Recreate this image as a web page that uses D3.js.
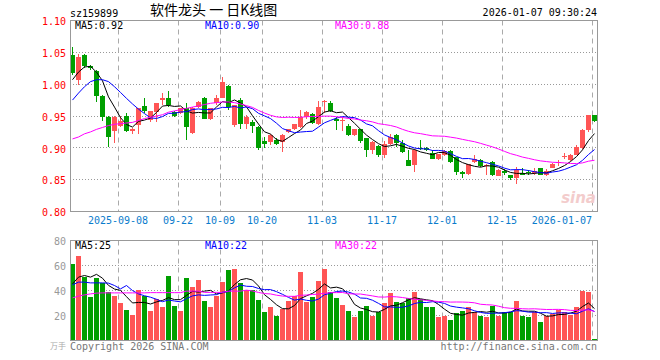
<!DOCTYPE html>
<head>
  <meta charset="utf-8">
  <title>159899 daily k</title>
  <script src="https://d3js.org/d3.v7.min.js"></script>
  <style>
    body { margin:0; background:#fff; }
    svg { display:block; }
    text { font-family: "DejaVu Sans Mono", monospace; font-size: 10px; }
  </style>
</head>
<body>
  <svg width="660" height="360"></svg>
  <script>
    // trading days shown on the chart
    var dates = [
      "2025-08-27","2025-08-28","2025-08-29",
      "2025-09-01","2025-09-02","2025-09-03","2025-09-04","2025-09-05",
      "2025-09-08","2025-09-09","2025-09-10","2025-09-11","2025-09-12",
      "2025-09-15","2025-09-16","2025-09-17","2025-09-18","2025-09-19",
      "2025-09-22","2025-09-23","2025-09-24","2025-09-25","2025-09-26",
      "2025-09-29","2025-09-30",
      "2025-10-09","2025-10-10",
      "2025-10-13","2025-10-14","2025-10-15","2025-10-16","2025-10-17",
      "2025-10-20","2025-10-21","2025-10-22","2025-10-23","2025-10-24",
      "2025-10-27","2025-10-28","2025-10-29","2025-10-30","2025-10-31",
      "2025-11-03","2025-11-04","2025-11-05","2025-11-06","2025-11-07",
      "2025-11-10","2025-11-11","2025-11-12","2025-11-13","2025-11-14",
      "2025-11-17","2025-11-18","2025-11-19","2025-11-20","2025-11-21",
      "2025-11-24","2025-11-25","2025-11-26","2025-11-27","2025-11-28",
      "2025-12-01","2025-12-02","2025-12-03","2025-12-04","2025-12-05",
      "2025-12-08","2025-12-09","2025-12-10","2025-12-11","2025-12-12",
      "2025-12-15","2025-12-16","2025-12-17","2025-12-18","2025-12-19",
      "2025-12-22","2025-12-23","2025-12-24","2025-12-25","2025-12-26",
      "2025-12-29","2025-12-30","2025-12-31",
      "2026-01-05","2026-01-06","2026-01-07"
    ];

    var open = [1.046,1.006,1.046,1.028,1.021,0.981,0.948,0.927,0.935,0.950,
                0.926,0.936,0.966,0.943,0.957,0.975,0.979,0.957,0.955,0.962,
                0.924,0.964,0.978,0.946,0.970,0.979,0.997,0.936,0.975,0.938,
                0.941,0.933,0.911,0.909,0.913,0.909,0.925,0.930,0.933,0.948,
                0.953,0.938,0.972,0.971,0.945,0.942,0.934,0.920,0.929,0.915,
                0.896,0.903,0.888,0.906,0.920,0.908,0.881,0.873,0.900,0.899,
                0.892,0.883,0.888,0.895,0.885,0.862,0.859,0.878,0.881,0.871,
                0.878,0.856,0.863,0.857,0.852,0.860,0.862,0.861,0.868,0.858,
                0.869,0.877,0.885,0.881,0.889,0.899,0.928,0.951];
    var high = [1.059,1.048,1.047,1.030,1.023,0.983,0.950,0.950,0.950,0.955,
                0.931,0.962,0.978,0.958,0.971,0.986,0.990,0.958,0.963,0.970,
                0.964,0.974,0.980,0.963,0.983,1.012,0.998,0.968,0.978,0.951,
                0.944,0.935,0.917,0.921,0.915,0.921,0.930,0.938,0.959,0.958,
                0.955,0.973,0.975,0.973,0.949,0.948,0.937,0.930,0.930,0.916,
                0.910,0.905,0.910,0.922,0.921,0.913,0.897,0.898,0.912,0.901,
                0.896,0.891,0.896,0.896,0.886,0.864,0.875,0.889,0.882,0.874,
                0.880,0.866,0.867,0.858,0.870,0.868,0.865,0.868,0.869,0.866,
                0.876,0.881,0.892,0.890,0.905,0.929,0.952,0.952];
    var low  = [1.015,0.999,1.026,1.022,0.972,0.942,0.902,0.907,0.932,0.925,
                0.921,0.921,0.954,0.941,0.941,0.967,0.964,0.949,0.953,0.912,
                0.922,0.962,0.945,0.944,0.967,0.978,0.959,0.933,0.930,0.930,
                0.923,0.897,0.899,0.905,0.904,0.894,0.923,0.928,0.931,0.946,
                0.938,0.936,0.954,0.956,0.928,0.927,0.918,0.919,0.907,0.886,
                0.891,0.886,0.884,0.904,0.902,0.892,0.871,0.862,0.896,0.895,
                0.882,0.881,0.887,0.876,0.857,0.852,0.858,0.876,0.870,0.857,
                0.856,0.855,0.857,0.850,0.843,0.857,0.858,0.858,0.857,0.856,
                0.868,0.871,0.882,0.880,0.888,0.898,0.925,0.941];
    var close = [1.017,1.043,1.028,1.025,0.981,0.949,0.917,0.948,0.942,0.927,
                 0.929,0.962,0.958,0.958,0.971,0.979,0.967,0.950,0.962,0.932,
                 0.962,0.972,0.946,0.962,0.979,1.004,0.964,0.967,0.938,0.949,
                 0.934,0.899,0.906,0.920,0.906,0.920,0.929,0.937,0.948,0.957,
                 0.939,0.964,0.973,0.958,0.942,0.944,0.920,0.929,0.911,0.896,
                 0.909,0.888,0.906,0.917,0.907,0.894,0.872,0.897,0.898,0.896,
                 0.883,0.890,0.895,0.878,0.862,0.859,0.874,0.882,0.871,0.873,
                 0.857,0.865,0.860,0.852,0.865,0.858,0.860,0.864,0.858,0.863,
                 0.875,0.878,0.887,0.889,0.902,0.928,0.951,0.942];
    // volume, 10k lots
    var volume = [61.3,67.5,50.7,35.2,49.9,45.9,38.7,36.0,29.9,24.8,
                  20.8,40.8,36.0,23.5,33.3,26.7,52.0,28.0,23.5,50.4,
                  42.7,48.8,32.0,26.7,36.0,46.7,56.8,57.6,45.9,40.8,
                  40.8,32.8,22.7,27.2,19.5,25.3,32.0,36.0,54.7,30.7,
                  35.2,48.0,57.6,38.7,33.9,28.8,24.0,19.2,24.0,28.0,
                  20.0,22.7,29.9,37.9,30.7,29.9,34.1,38.7,33.3,26.7,
                  26.7,18.7,20.0,16.8,21.9,24.0,27.2,22.7,20.0,19.2,
                  28.0,20.0,22.7,23.2,32.0,20.0,19.2,22.7,15.2,20.0,
                  21.3,24.5,23.2,20.8,27.2,40.0,38.7,0.8];

    // moving average values before enough bars are on screen
    var ma5Head  = [1.007,1.019,1.027,1.028];
    var ma10Head = [0.975,0.986,0.996,1.004,1.007,1.007,1.004,0.996,0.987];
    var ma30Head = [0.914,0.917,0.922,0.925,0.929,0.932,0.935,0.937,0.938,0.939,
                    0.940,0.943,0.946,0.948,0.950,0.952,0.956,0.958,0.960,0.962,
                    0.964,0.966,0.968,0.970,0.971,0.972,0.972,0.971,0.969];
    var vma5Head  = [45.3,50.7,52.0,50.7];
    var vma10Head = [44.5,46.7,46.7,46.1,46.1,46.1,45.9,44.0,41.3];
    var vma30Head = [34.1,35.5,36.5,37.3,37.9,38.1,38.1,38.1,38.1,38.1,
                     38.1,38.1,38.1,38.3,38.3,38.3,38.3,38.3,38.3,39.5,
                     39.5,39.5,38.5,38.5,38.5,38.5,39.5,39.5,39.5];

    var priceTicks = [0.80,0.85,0.90,0.95,1.00,1.05,1.10];
    var volTicks = [20,40,60,80];
    var dateTicks = ["2025-09-08","2025-09-22","2025-10-09","2025-10-20","2025-11-03",
                     "2025-11-17","2025-12-01","2025-12-15","2026-01-07"];
    var dateTickLabels = ["2025-09-08","09-22","10-09","10-20","11-03",
                          "11-17","12-01","12-15","2026-01-07"];
    var priceMaLabels = ["MA5:0.92","MA10:0.90","MA30:0.88"];
    var volMaLabels = ["MA5:25","MA10:22","MA30:22"];
    var maColors = ["#000","#00f","#f0f"];

    var upColor = "#ff5555", downColor = "#009f00";
    var left = 70, right = 598;
    var pTop = 20.5, pBottom = 211.5, vTop = 240.5, vBottom = 340.5;

    var svg = d3.select('svg');

    var x = d3.scaleBand()
      .domain(dates)
      .range([left, right])
      .paddingInner(1/6)
      .align(0)
      .round(true);
    var yP = d3.scaleLinear().domain([0.80, 1.10]).range([pBottom, pTop]);
    var yV = d3.scaleLinear().domain([0, 80]).range([vBottom, vTop]);

    function movingAvg(vals, n, head) {
      return vals.map((v, i) => {
        if (i < n - 1) return head[i];
        return d3.mean(vals.slice(i - n + 1, i + 1));
      });
    }

    var candles = dates.map((d, i) => ({
      date: d, o: open[i], h: high[i], l: low[i], c: close[i], v: volume[i]
    }));
    var col = d => d.c >= d.o ? upColor : downColor;

    // grids
    var grid = svg.append('g');
    priceTicks.slice(1, -1).forEach(t => {
      var yy = Math.floor(yP(t)) + 0.5;
      grid.append('line').attr('x1', left).attr('x2', right).attr('y1', yy).attr('y2', yy)
        .attr('stroke', '#999').attr('stroke-dasharray', '1,2');
    });
    volTicks.slice(0, -1).forEach(t => {
      var yy = Math.floor(yV(t)) + 0.5;
      grid.append('line').attr('x1', left).attr('x2', right).attr('y1', yy).attr('y2', yy)
        .attr('stroke', '#999').attr('stroke-dasharray', '1,2');
    });
    dateTicks.forEach(d => {
      var xx = x(d) + 0.5;
      grid.append('line').attr('x1', xx).attr('x2', xx).attr('y1', pTop).attr('y2', pBottom)
        .attr('stroke', '#aaa').attr('stroke-dasharray', '5,4');
      grid.append('line').attr('x1', xx).attr('x2', xx).attr('y1', vTop).attr('y2', vBottom)
        .attr('stroke', '#aaa').attr('stroke-dasharray', '5,4');
    });

    // sina watermark
    svg.append('text')
      .attr('x', 596).attr('y', 203)
      .attr('text-anchor', 'end')
      .style('font-family', '"DejaVu Sans", sans-serif')
      .style('font-size', '15px').style('font-style', 'italic').style('font-weight', 'bold')
      .attr('fill', '#f3cccc')
      .text('sina');

    // candles
    var cg = svg.append('g');
    cg.selectAll('line.wick').data(candles).enter().append('line')
      .attr('class', 'wick')
      .attr('x1', d => x(d.date) + 2.5).attr('x2', d => x(d.date) + 2.5)
      .attr('y1', d => Math.round(yP(d.h))).attr('y2', d => Math.round(yP(d.l)))
      .attr('stroke', col);
    cg.selectAll('rect').data(candles).enter().append('rect')
      .attr('x', d => x(d.date))
      .attr('width', x.bandwidth())
      .attr('y', d => Math.round(yP(Math.max(d.o, d.c))))
      .attr('height', d => Math.max(1, Math.round(yP(Math.min(d.o, d.c))) - Math.round(yP(Math.max(d.o, d.c)))))
      .attr('fill', col);

    // volume bars
    svg.append('g').selectAll('rect').data(candles).enter().append('rect')
      .attr('x', d => x(d.date))
      .attr('width', x.bandwidth())
      .attr('y', d => Math.round(yV(d.v)))
      .attr('height', d => 340 - Math.round(yV(d.v)))
      .attr('fill', col);

    // moving averages
    var priceMa = [movingAvg(close, 5, ma5Head), movingAvg(close, 10, ma10Head), movingAvg(close, 30, ma30Head)];
    var volMa = [movingAvg(volume, 5, vma5Head), movingAvg(volume, 10, vma10Head), movingAvg(volume, 30, vma30Head)];
    var lineP = d3.line().x((d, i) => x(dates[i]) + 2.5).y(d => yP(d));
    var lineV = d3.line().x((d, i) => x(dates[i]) + 2.5).y(d => yV(d));
    priceMa.forEach((s, k) => {
      svg.append('path').attr('d', lineP(s)).attr('fill', 'none')
        .attr('stroke', maColors[k]).attr('stroke-width', 1);
    });
    volMa.forEach((s, k) => {
      svg.append('path').attr('d', lineV(s)).attr('fill', 'none')
        .attr('stroke', maColors[k]).attr('stroke-width', 1);
    });

    // frames
    svg.append('rect').attr('x', left + 0.5).attr('y', pTop).attr('width', right - left - 1).attr('height', pBottom - pTop)
      .attr('fill', 'none').attr('stroke', '#999');
    svg.append('rect').attr('x', left + 0.5).attr('y', vTop).attr('width', right - left - 1).attr('height', vBottom - vTop)
      .attr('fill', 'none').attr('stroke', '#999');

    // axes
    var yAxisP = svg.append('g').attr('transform', 'translate(' + [left, 1] + ')')
      .call(d3.axisLeft(yP).tickValues(priceTicks).tickFormat(d3.format('.2f')).tickSize(0).tickPadding(4));
    yAxisP.select('.domain').remove();
    yAxisP.selectAll('text').attr('fill', '#f00').style('font-size', '10px').style('font-family', '"DejaVu Sans Mono", monospace');

    var yAxisV = svg.append('g').attr('transform', 'translate(' + [left, 1] + ')')
      .call(d3.axisLeft(yV).tickValues(volTicks).tickFormat(d3.format('d')).tickSize(0).tickPadding(4));
    yAxisV.select('.domain').remove();
    yAxisV.selectAll('text').attr('fill', '#999').style('font-size', '10px').style('font-family', '"DejaVu Sans Mono", monospace');

    // volume unit
    svg.append('text').attr('x', 66).attr('y', 349).attr('text-anchor', 'end')
      .style('font-family', '"Noto Sans CJK SC", sans-serif').style('font-size', '8px')
      .attr('fill', '#aaa').text('万手');

    var xAxis = svg.append('g').attr('transform', 'translate(' + [-2.5, 211] + ')')
      .call(d3.axisBottom(x).tickValues(dateTicks).tickFormat((d, i) => dateTickLabels[i]).tickSize(0).tickPadding(6));
    xAxis.select('.domain').remove();
    xAxis.selectAll('text').attr('fill', '#0a7ccc').style('font-size', '10px').style('font-family', '"DejaVu Sans Mono", monospace');
    xAxis.selectAll('.tick').filter((d, i, n) => i === n.length - 1).select('text').attr('text-anchor', 'end');

    // header
    svg.append('text').attr('x', 70).attr('y', 17).attr('fill', '#000').text('sz159899');
    svg.append('text').attr('x', 150).attr('y', 15)
      .style('font-family', '"Noto Sans CJK SC", sans-serif').style('font-size', '14px')
      .style('white-space', 'pre')
      .attr('fill', '#000').text('软件龙头 一 日K线图');
    svg.append('text').attr('x', 597).attr('y', 16).attr('text-anchor', 'end').attr('fill', '#000')
      .text('2026-01-07 09:30:24');

    // legends
    var legendX = [75, 205, 335];
    priceMaLabels.forEach((t, k) => {
      svg.append('text').attr('x', legendX[k]).attr('y', 29).attr('fill', maColors[k]).text(t);
    });
    volMaLabels.forEach((t, k) => {
      svg.append('text').attr('x', legendX[k]).attr('y', 249).attr('fill', maColors[k]).text(t);
    });

    // footer
    svg.append('text').attr('x', 70).attr('y', 350).attr('fill', '#777').text('Copyright 2026 SINA.COM');
    svg.append('text').attr('x', 597).attr('y', 350).attr('text-anchor', 'end').attr('fill', '#777')
      .text('http://finance.sina.com.cn');
  </script>
</body>
